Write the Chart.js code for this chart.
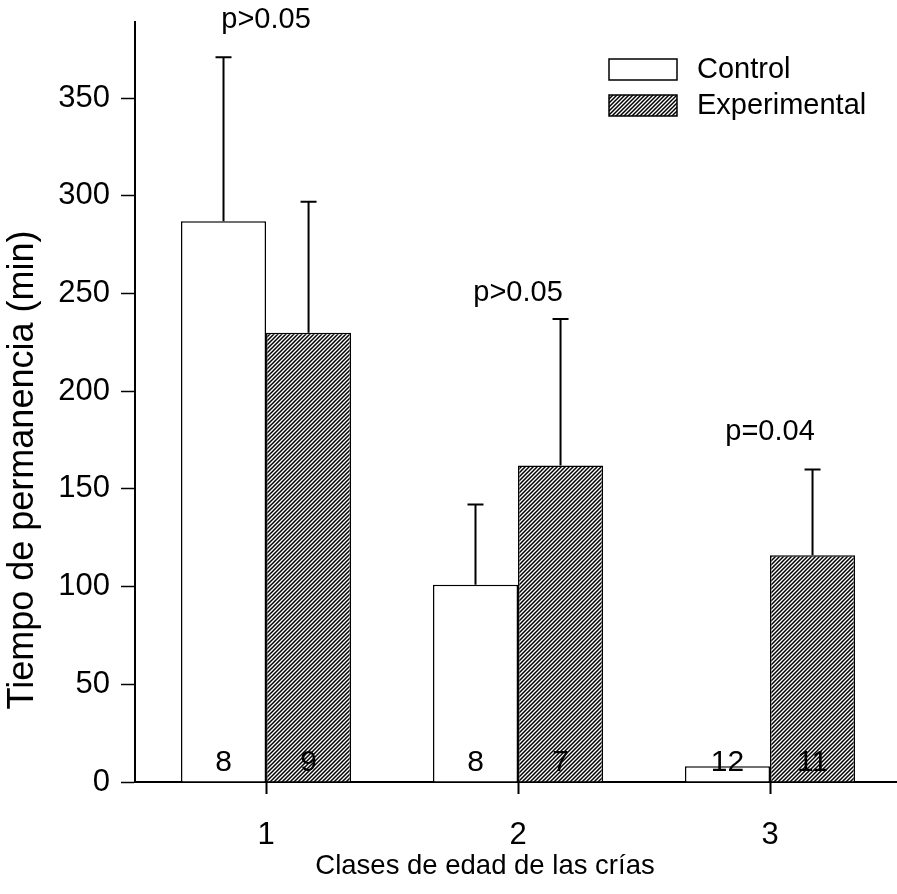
<!DOCTYPE html>
<html><head><meta charset="utf-8">
<script src="https://cdn.jsdelivr.net/npm/chart.js@4"></script>
<style>html,body{margin:0;padding:0;background:#fff}#wrap{width:897px;height:894px}</style>
</head><body><div id="wrap"><canvas id="c" width="897" height="894"></canvas></div>
<script>
// ---- data ----
const categories = [1, 2, 3];
const xTickLabels = ['1', '2', '3'];
const seriesNames = ['Control', 'Experimental'];
const controlValues = [287, 101, 8];
const controlErrors = [84, 41, 0];
const experimentalValues = [230, 162, 116];
const experimentalErrors = [67, 75, 44];
const controlN = ['8', '8', '12'];
const experimentalN = ['9', '7', '11'];
const pLabels = ['p>0.05', 'p>0.05', 'p=0.04'];
const pLabelLevels = [386, 246, 175];
const yTicks = [0, 50, 100, 150, 200, 250, 300, 350];
const yTitle = 'Tiempo de permanencia (min)';
const xTitle = 'Clases de edad de las crías';

// ---- styles ----
const FONT = "'Liberation Sans', Arial, sans-serif";
function makeHatch() {
  const t = document.createElement('canvas');
  t.width = 4; t.height = 4;
  const g = t.getContext('2d');
  g.fillStyle = '#fff'; g.fillRect(0, 0, 4, 4);
  g.strokeStyle = '#000'; g.lineWidth = 1.5;
  g.beginPath();
  g.moveTo(-1, 1); g.lineTo(1, -1);
  g.moveTo(0, 4); g.lineTo(4, 0);
  g.moveTo(3, 5); g.lineTo(5, 3);
  g.stroke();
  return g.createPattern(t, 'repeat');
}
const ctx = document.getElementById('c').getContext('2d');
const hatch = makeHatch();

const errorsBySeries = [controlErrors, experimentalErrors];
const valuesBySeries = [controlValues, experimentalValues];
const nBySeries = [controlN, experimentalN];

const overlay = {
  id: 'overlay',
  afterDatasetsDraw(chart) {
    const c = chart.ctx, y = chart.scales.y, x = chart.scales.x;
    c.save();
    c.strokeStyle = '#000'; c.lineWidth = 2;
    for (let d = 0; d < 2; d++) {
      const meta = chart.getDatasetMeta(d);
      meta.data.forEach((el, i) => {
        const e = errorsBySeries[d][i];
        if (!e) return;
        const y0 = y.getPixelForValue(valuesBySeries[d][i]);
        const y1 = y.getPixelForValue(valuesBySeries[d][i] + e);
        c.beginPath();
        c.moveTo(el.x, y0); c.lineTo(el.x, y1);
        c.moveTo(el.x - 8, y1); c.lineTo(el.x + 8, y1);
        c.stroke();
      });
    }
    c.fillStyle = '#000';
    c.font = '30px ' + FONT;
    c.textAlign = 'center'; c.textBaseline = 'alphabetic';
    const base = y.getPixelForValue(0);
    for (let d = 0; d < 2; d++) {
      chart.getDatasetMeta(d).data.forEach((el, i) => {
        c.fillText(nBySeries[d][i], el.x, base - 11);
      });
    }
    c.font = '29px ' + FONT;
    categories.forEach((cat, i) => {
      c.fillText(pLabels[i], x.getPixelForValue(cat), y.getPixelForValue(pLabelLevels[i]));
    });
    // legend
    const fills = ['#fff', hatch];
    c.textAlign = 'left'; c.textBaseline = 'middle';
    seriesNames.forEach((name, k) => {
      const top = 59 + k * 36;
      c.fillStyle = fills[k];
      c.fillRect(609, top, 68, 21);
      c.lineWidth = 1.5; c.strokeStyle = '#000';
      c.strokeRect(609, top, 68, 21);
      c.fillStyle = '#000';
      c.fillText(name, 697, top + 11);
    });
    // x axis title
    c.textAlign = 'center'; c.textBaseline = 'middle';
    c.font = '27.5px ' + FONT;
    c.fillText(xTitle, 485, 866);
    // y axis title
    c.save();
    c.translate(23, 470);
    c.rotate(-Math.PI / 2);
    c.font = '36px ' + FONT;
    c.fillText(yTitle, 0, 0);
    c.restore();
    c.restore();
  }
};

new Chart(ctx, {
  type: 'bar',
  data: {
    datasets: [
      { label: seriesNames[0], data: categories.map((v, i) => ({ x: v, y: controlValues[i] })),
        backgroundColor: '#fff', borderColor: '#000', borderWidth: 1.5 },
      { label: seriesNames[1], data: categories.map((v, i) => ({ x: v, y: experimentalValues[i] })),
        backgroundColor: hatch, borderColor: '#000', borderWidth: 1.5 }
    ]
  },
  options: {
    responsive: false, animation: false, devicePixelRatio: 1,
    events: [],
    layout: { padding: { top: 22, right: 1, left: 0, bottom: 0 } },
    categoryPercentage: 0.675, barPercentage: 1,
    plugins: { legend: { display: false }, tooltip: { enabled: false } },
    scales: {
      x: {
        type: 'linear', min: 0.48, max: 3.5, offset: false,
        afterBuildTicks: s => { s.ticks = categories.map(v => ({ value: v })); },
        afterFit: s => { s.height = 112; s.paddingLeft = 0; s.paddingRight = 0; },
        ticks: { callback: (v, i) => xTickLabels[i], color: '#000', font: { family: FONT, size: 31 }, padding: 23 },
        grid: { offset: false, drawOnChartArea: false, drawTicks: true, tickLength: 12, tickColor: '#000', tickWidth: 2 },
        border: { display: true, color: '#000', width: 2 },
        title: { display: false }
      },
      y: {
        min: 0, max: 389,
        afterBuildTicks: s => { s.ticks = yTicks.map(v => ({ value: v })); },
        afterFit: s => { s.width = 135; s.paddingTop = 0; s.paddingBottom = 0; },
        ticks: { color: '#000', font: { family: FONT, size: 31 }, padding: 11 },
        grid: { drawOnChartArea: false, drawTicks: true, tickLength: 14, tickColor: '#000', tickWidth: 1.5 },
        border: { display: true, color: '#000', width: 2 },
        title: { display: false }
      }
    }
  },
  plugins: [overlay]
});
</script></body></html>
